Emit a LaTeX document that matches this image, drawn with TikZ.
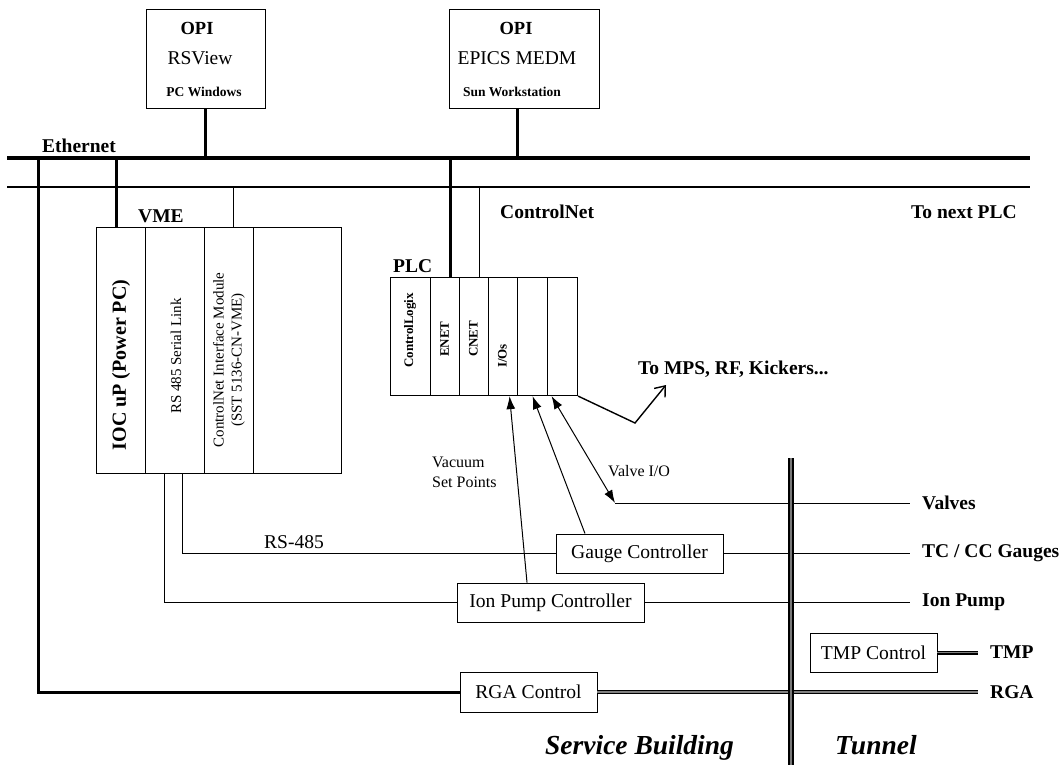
\documentclass[tikz,border=0pt]{standalone}
\usepackage{fontspec}
\setmainfont{Liberation Serif}
\usepackage{tikz}
\usetikzlibrary{arrows.meta, positioning, calc}
\usepackage{xcolor}
\definecolor{wallgray}{RGB}{120,120,120}
\newcommand{\fsz}[1]{\fontsize{#1}{#1}\selectfont}

\begin{document}
\begin{tikzpicture}[x=1pt, y=-1pt,
  box/.style={draw, line width=0.9pt, inner sep=0pt, font=\fsz{19.6}},
  slot/.style={draw, line width=1.1pt, inner sep=0pt, anchor=north west},
  lbl/.style={inner sep=0pt, anchor=base west, font=\bfseries\fsz{19.5}},
  side/.style={inner sep=0pt, anchor=west, font=\bfseries\fsz{19.5}},
  vtext/.style={rotate=90, inner sep=0pt},
  eth/.style={line width=4.5pt},
  trunk/.style={line width=3pt},
  wire/.style={line width=1pt},
  io/.style={line width=1pt, -{Latex[length=13pt,width=9pt]}},
  iotwo/.style={line width=1pt, {Latex[length=13pt,width=9pt]}-{Latex[length=13pt,width=9pt]}},
  dbl/.style={double=gray, line width=1.4pt, double distance=1.2pt},
  wall/.style={draw=black, double=wallgray, line width=2.2pt, double distance=2.4pt}]
  \useasboundingbox (0,0) rectangle (1062,765);

  % operator stations
  \node[box, minimum width=119, minimum height=99] (opiRS) at (205.5,58.5) {};
  \node[inner sep=0pt, anchor=base, font=\bfseries\fsz{18.5}] (opiRSa) at (197,35) {OPI};
  \node[inner sep=0pt, anchor=base, font=\fsz{19.5}] (opiRSb) at (200,65) {RSView};
  \node[inner sep=0pt, anchor=base, font=\bfseries\fsz{13.5}] (opiRSc) at (204,97) {PC Windows};
  \node[box, minimum width=150, minimum height=99] (opiME) at (524,58.5) {};
  \node[inner sep=0pt, anchor=base, font=\bfseries\fsz{18.5}] (opiMEa) at (516,35) {OPI};
  \node[inner sep=0pt, anchor=base, font=\fsz{19.5}] (opiMEb) at (517,65) {EPICS MEDM};
  \node[inner sep=0pt, anchor=base, font=\bfseries\fsz{13.5}] (opiMEc) at (512,97) {Sun Workstation};

  % networks
  \coordinate (ethW) at (7,158);
  \coordinate (ethE) at (1030,158);
  \coordinate (cnW) at (7,187);
  \coordinate (cnE) at (1030,187);
  \draw[eth] (ethW) -- (ethE);
  \draw[wire, line width=1.3pt] (cnW) -- (cnE);
  \draw[trunk] (opiRS.south) -- (opiRS.south |- ethW);
  \draw[trunk] ($(opiME.south)+(-7,0)$) -- ($(opiME.south)+(-7,50)$);
  \node[lbl] (ethl) at (42,153) {Ethernet};
  \node[lbl] (cnl) at (500,218) {ControlNet};
  \node[lbl] (nextl) at (911,218) {To next PLC};

  % VME crate
  \foreach \nm/\xa/\xb in {ioc/96/145, rsl/145/204, cnim/204/253, spare/253/341}
    \node[slot, minimum width=\xb-\xa, minimum height=246] (\nm) at (\xa,227) {};
  \node[lbl] (vmel) at (138,222) {VME};
  \node[vtext, font=\bfseries\fsz{20}] (iocT) at (121,365) {IOC uP (Power PC)};
  \node[vtext, font=\fsz{15}] (rslT) at (176,356) {RS 485 Serial Link};
  \node[vtext, align=center, font=\fontsize{15}{18}\selectfont] (cnimT) at (229,360)
    {ControlNet Interface Module\\(SST 5136-CN-VME)};
  \coordinate (tapB) at (116,158);
  \coordinate (tapBc) at (233,187);
  \draw[trunk] (tapB) -- (tapB |- ioc.north);
  \draw[wire] (tapBc) -- (tapBc |- cnim.north);

  % PLC crate
  \foreach \nm/\xa/\xb in {clx/390/430, enet/430/459, cnet/459/488, ios/488/517, ioa/517/547, iob/547/577}
    \node[slot, minimum width=\xb-\xa, minimum height=118] (\nm) at (\xa,277) {};
  \node[lbl] (plcl) at (393,272) {PLC};
  \node[vtext, anchor=west, font=\bfseries\fsz{13}] (clxT) at (410,368) {ControlLogix};
  \node[vtext, anchor=west, font=\bfseries\fsz{13}] (enetT) at (444.5,357) {ENET};
  \node[vtext, anchor=west, font=\bfseries\fsz{13}] (cnetT) at (473.5,357) {CNET};
  \node[vtext, anchor=west, font=\bfseries\fsz{13}] (iosT) at (502.5,368) {I/Os};
  \coordinate (tapC) at (450,158);
  \coordinate (tapCc) at (479,187);
  \draw[trunk] (tapC) -- (tapC |- enet.north);
  \draw[wire] (tapCc) -- (tapCc |- cnet.north);

  % controllers
  \node[box, minimum width=167, minimum height=39] (gauge) at (639.5,553.5) {Gauge Controller};
  \node[box, minimum width=187, minimum height=39] (ionpump) at (550.5,602.5) {Ion Pump Controller};
  \node[box, minimum width=137, minimum height=40] (rga) at (528.5,692) {RGA Control};
  \node[box, minimum width=127, minimum height=39] (tmp) at (873.5,652.5) {TMP Control};

  % field devices
  \node[side] (valves) at (922,503) {Valves};
  \node[side] (tcg) at (922,553.5) {TC / CC Gauges};
  \node[side] (ipl) at (922,602.5) {Ion Pump};
  \node[side] (tmpl) at (990,652.5) {TMP};
  \node[side] (rgal) at (990,692) {RGA};

  % serial links
  \draw[wire] ($(rsl.south west)+(37,0)$) |- (gauge.west);
  \draw[wire] ($(ioc.south east)+(18,0)$) |- (ionpump.west);
  \node[inner sep=0pt, anchor=base west, font=\fsz{19.5}] (rs485l) at (264,548) {RS-485};

  % I/O wiring
  \coordinate (vcorner) at (615,503);
  \draw[io] ($(ionpump.north)+(-23.5,0)$) -- ($(ios.south)+(6.5,0)$);
  \draw[io] ($(gauge.north)+(-54.5,0)$) -- (ioa.south);
  \draw[iotwo] ($(iob.south)+(-11,0)$) -- (vcorner);
  \draw[wire] (vcorner) -- ([xshift=-12pt]valves.west);
  \draw[wire] (gauge.east) -- ([xshift=-12pt]tcg.west);
  \draw[wire] (ionpump.east) -- ([xshift=-12pt]ipl.west);
  \node[inner sep=0pt, anchor=base west, font=\fsz{16}] (vac1) at (432,467) {Vacuum};
  \node[inner sep=0pt, anchor=base west, font=\fsz{16}] (vac2) at (432,487) {Set Points};
  \node[inner sep=0pt, anchor=base west, font=\fsz{16}] (vio) at (608,476) {Valve I/O};

  \coordinate (mpsbend) at (635,423);
  \coordinate (mpstip) at (666,385);
  \draw[wire, line width=1.4pt, -{Straight Barb[length=9pt,width=14pt]}] (iob.south east) -- (mpsbend) -- (mpstip);
  \node[lbl] (mpsl) at (638,374) {To MPS, RF, Kickers...};

  % RGA and TMP
  \coordinate (tapA) at (38,158);
  \draw[trunk] (tapA) |- (rga.west);
  \draw[dbl] (rga.east) -- ([xshift=-12pt]rgal.west);
  \draw[dbl] (tmp.east) -- ([xshift=-12pt]tmpl.west);

  % tunnel wall
  \coordinate (wallT) at (791,458);
  \coordinate (wallB) at (791,765);
  \draw[wall] (wallT) -- (wallB);
  \node[inner sep=0pt, anchor=base west, font=\bfseries\itshape\fsz{27.5}] (sbl) at (545,754) {Service Building};
  \node[inner sep=0pt, anchor=base west, font=\bfseries\itshape\fsz{27.5}] (tnl) at (835,754) {Tunnel};
\end{tikzpicture}
\end{document}
